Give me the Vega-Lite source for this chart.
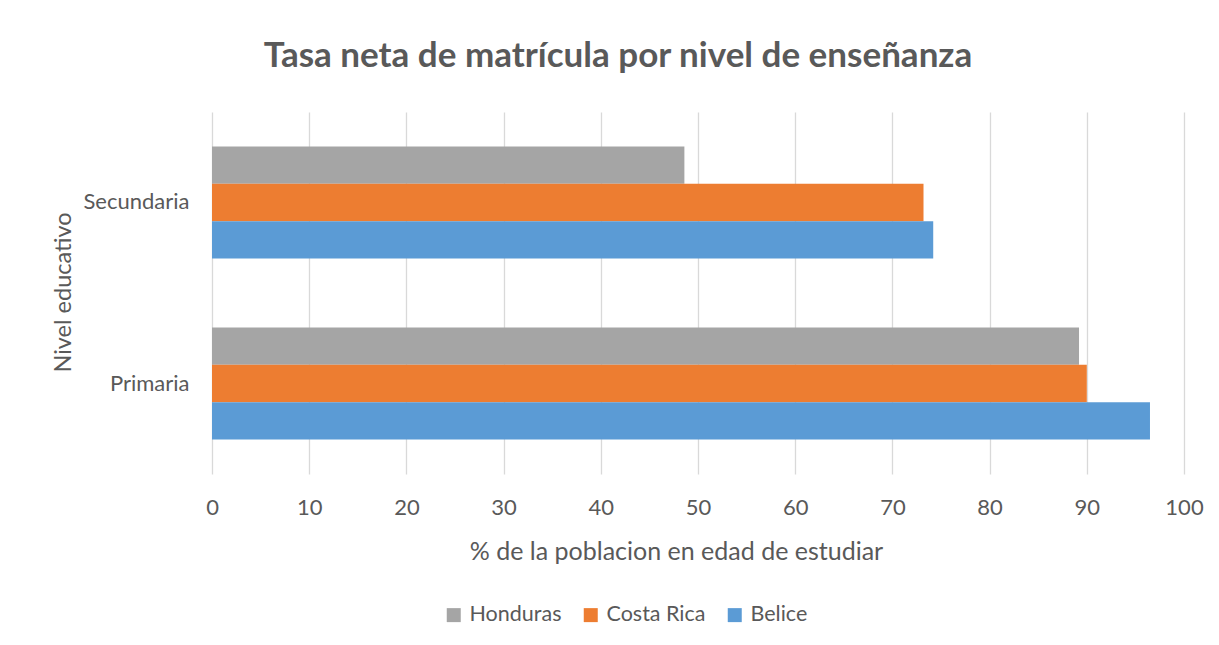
{
  "$schema": "https://vega.github.io/schema/vega-lite/v6.json",
  "width": 972,
  "height": 362,
  "autosize": {"type": "none"},
  "padding": {"left": 212, "top": 112, "right": 35, "bottom": 171},
  "background": "white",
  "title": {
    "text": "Tasa neta de matrícula por nivel de enseñanza",
    "font": "Lato",
    "fontSize": 35,
    "fontWeight": "bold",
    "color": "#595959",
    "anchor": "middle",
    "dx": -80,
    "offset": 10,
    "baseline": "alphabetic"
  },
  "data": {
    "values": [
      {"nivel": "Secundaria", "pais": "Honduras", "valor": 48.6},
      {"nivel": "Secundaria", "pais": "Costa Rica", "valor": 73.2},
      {"nivel": "Secundaria", "pais": "Belice", "valor": 74.2},
      {"nivel": "Primaria", "pais": "Honduras", "valor": 89.2},
      {"nivel": "Primaria", "pais": "Costa Rica", "valor": 90.0},
      {"nivel": "Primaria", "pais": "Belice", "valor": 96.5}
    ]
  },
  "mark": {"type": "bar"},
  "encoding": {
    "y": {
      "field": "nivel",
      "type": "nominal",
      "sort": ["Secundaria", "Primaria"],
      "scale": {"paddingInner": 0.381, "paddingOuter": 0.19},
      "axis": {
        "title": "Nivel educativo",
        "titleFont": "Lato",
        "titleFontSize": 23.5,
        "titleFontWeight": "normal",
        "titleColor": "#595959",
        "titleAngle": -90,
        "titleX": -142,
        "titleY": 180,
        "titleAlign": "center",
        "titleBaseline": "alphabetic",
        "labelFont": "Lato",
        "labelFontSize": 22,
        "labelColor": "#595959",
        "labelPadding": 23,
        "domain": false,
        "ticks": false,
        "tickSize": 0,
        "grid": false
      }
    },
    "yOffset": {"field": "pais", "sort": ["Honduras", "Costa Rica", "Belice"]},
    "x": {
      "field": "valor",
      "type": "quantitative",
      "scale": {"domain": [0, 100], "nice": false},
      "axis": {
        "values": [0, 10, 20, 30, 40, 50, 60, 70, 80, 90, 100],
        "title": "% de la poblacion en edad de estudiar",
        "titleFont": "Lato",
        "titleFontSize": 25,
        "titleFontWeight": "normal",
        "titleColor": "#595959",
        "titleX": 464,
        "titleY": 85,
        "titleBaseline": "alphabetic",
        "titleAlign": "center",
        "labelFont": "Lato",
        "labelFontSize": 22,
        "labelColor": "#595959",
        "labelBaseline": "alphabetic",
        "labelPadding": 40,
        "labelFlush": false,
        "labelOverlap": false,
        "domain": false,
        "ticks": false,
        "tickSize": 0,
        "grid": true,
        "gridColor": "#D9D9D9",
        "gridWidth": 1.3
      }
    },
    "color": {
      "field": "pais",
      "type": "nominal",
      "scale": {
        "domain": ["Honduras", "Costa Rica", "Belice"],
        "range": ["#A5A5A5", "#ED7D31", "#5B9BD5"]
      },
      "legend": {
        "title": null,
        "orient": "none",
        "direction": "horizontal",
        "legendX": 231,
        "legendY": 492,
        "padding": 0,
        "symbolType": "square",
        "symbolSize": 196,
        "symbolStrokeWidth": 0,
        "symbolOpacity": 1,
        "labelFont": "Lato",
        "labelFontSize": 21.5,
        "labelColor": "#595959",
        "labelOffset": 5,
        "columnPadding": 18
      }
    }
  },
  "config": {
    "view": {"stroke": null}
  }
}
